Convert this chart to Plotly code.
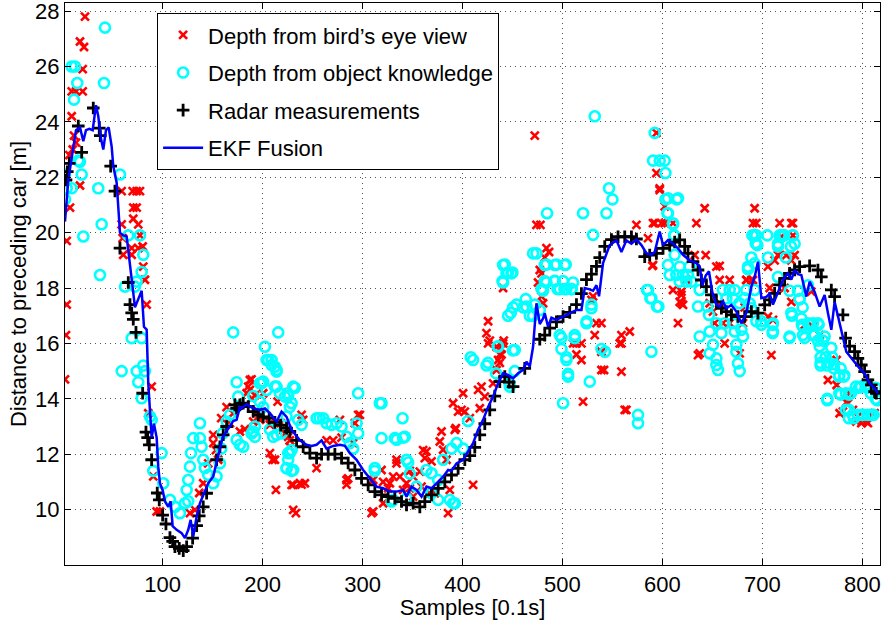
import plotly.graph_objects as go

# ---------------- data ----------------
ekf_x = [2.3, 5.6, 9, 13.3, 17.3, 20.6, 23.3, 26.6, 30, 33.3, 35.6, 38.3, 40.6, 43.3, 46, 49, 50.6, 54, 57.3, 60.6,
         64, 66.3, 69, 72.3, 75.6, 79, 81.3, 84, 85.6, 87.3, 89, 91.3, 94, 95.6, 97.3, 100, 102.3, 105.6, 108, 110,
         114, 119, 122.3, 125.6, 128, 130.6, 134, 137.3, 141.3, 145.6, 150.6, 155.6, 160, 164, 167.3, 170.6, 174,
         177.3, 179, 184, 187.3, 190.6, 197.3, 202.3, 207.3, 214, 219, 224, 229, 237.3, 244, 249, 254, 259, 264,
         270.6, 277.3, 282.3, 287.3, 294, 300.6, 307.3, 314, 320.6, 327.3, 334, 340.6, 344, 349, 354, 359, 364,
         369, 374, 380.6, 385.6, 389, 394, 400.6, 405.6, 410.6, 415.6, 420.6, 425.6, 430.6, 435.6, 440.6, 445.6,
         450.6, 455.6, 460.6, 464, 467.3, 470.6, 474, 477.3, 480.6, 482.3, 485.6, 489, 494, 500.6, 507.3, 514,
         519, 522.3, 527.3, 530.6, 534, 536.6, 540.6, 547.3, 554, 559, 564, 569, 574, 579, 584, 589, 592.3, 597.3,
         600.6, 605.6, 610.6, 615.6, 620.6, 627.3, 634, 637.3, 640, 643.3, 646.6, 650, 654, 657.3, 660.6, 664,
         669, 674, 679, 684, 689, 692.3, 695.6, 699, 704, 707.3, 710.6, 715.6, 720.6, 725.6, 729, 732.3, 735.6,
         739, 744, 747.3, 752.3, 757.3, 762.3, 765.6, 769, 772.3, 775.6, 780.6, 784, 790.6, 797.3, 802.3, 807.3,
         812.3, 815.6]
ekf_y = [20.4, 21.9, 22.7, 23.7, 23.8, 23.3, 23.7, 23.75, 23.7, 24.6, 24.2, 23.4, 23.0, 23.7, 23.8, 23.1, 22.4, 21.8,
         20.0, 19.9, 19.86, 19.1, 18.3, 17.3, 17.6, 17.9, 16.6, 16.5, 14.56, 13.36, 12.6, 13.1, 12.6, 11.55, 10.95,
         10.7, 10.3, 10.1, 10.3, 9.4, 9.27, 9.15, 8.97, 9.27, 9.63, 9.03, 9.75, 10.23, 10.6, 10.95, 11.2, 11.9, 12.6,
         12.85, 13.0, 13.2, 13.24, 13.7, 13.66, 13.8, 13.72, 13.66, 13.6, 13.65, 13.48, 13.18, 13.54, 13.35, 12.88,
         12.5, 12.34, 12.3, 12.34, 12.5, 12.2, 12.3, 12.34, 12.3, 12.04, 11.8, 11.43, 11.13, 10.83, 10.77, 10.65,
         10.65, 10.71, 10.47, 10.83, 10.71, 10.47, 10.83, 10.77, 10.95, 11.19, 11.43, 11.4, 11.67, 11.8, 12.1, 12.4,
         12.88, 13.24, 13.7, 14.08, 14.56, 14.92, 14.86, 14.74, 14.92, 15.04, 15.34, 15.16, 15.88, 17.45, 16.7, 16.9,
         17.09, 16.6, 16.93, 16.85, 16.97, 17.09, 17.21, 17.21, 18.0, 17.95, 17.9, 18.1, 17.7, 18.9, 19.55, 19.72,
         19.3, 19.72, 19.6, 19.75, 19.55, 19.26, 19.2, 19.3, 20.04, 19.55, 19.73, 19.6, 19.43, 19.2, 19.0, 18.9,
         18.78, 18.1, 18.45, 18.6, 17.84, 17.39, 17.33, 17.51, 17.27, 17.39, 17.15, 16.73, 17.1, 18.05, 18.4, 18.95,
         17.63, 17.68, 17.8, 17.4, 17.86, 18.29, 18.53, 18.3, 18.65, 18.5, 18.47, 17.69, 18.23, 17.86, 17.33, 17.75,
         17.1, 16.49, 17.5, 16.97, 16.13, 15.7, 15.4, 15.1, 14.92, 14.56, 14.38, 14.2]

radar_x = [3.3, 4.6, 6.6, 15.6, 19, 30.6, 36.6, 37.6, 48, 52.3, 57.3, 65.6, 67.3, 69, 70.6, 73.3, 80, 83.3, 85, 86.6,
           89, 94.6, 96.6, 100, 103.3, 107.3, 110, 112.3, 116.6, 120.6, 124, 130, 134, 136.6, 140.6, 144, 154,
           157.3, 160.6, 164, 172.3, 174, 177.3, 180.6, 185.6, 190.6, 195.6, 200.6, 206.6, 212.3, 218, 224, 227.3,
           234, 240.6, 247.3, 254, 259, 265.6, 272.3, 279, 285.6, 292.3, 299, 305.6, 312.3, 319, 325.6, 332.3, 339,
           344, 350.6, 357.3, 362.3, 369, 375.6, 382.3, 389, 395.6, 402.3, 407.3, 412.3, 417.3, 422.3, 427.3, 432.3,
           437.3, 442.3, 446.6, 450.6, 462.3, 477.3, 482.3, 487.3, 494, 500.6, 507.3, 514, 519, 524, 529, 534,
           537.3, 542.3, 549, 555.6, 562.3, 569, 574, 582.3, 587.3, 594, 600.6, 607.3, 612.3, 617.3, 622.3, 625.6,
           630.6, 635.6, 639, 644, 649, 654, 659, 664, 669, 675.6, 682.3, 689, 695.6, 702.3, 707.3, 712.3, 717.3,
           722.3, 727.3, 732.3, 737.3, 747.3, 755.6, 759, 769, 772.3, 780.6, 783.3, 787.3, 792.3, 795.6, 799, 802.3,
           805.6, 809, 812.3, 814]
radar_y = [21.9, 22.2, 22.5, 23.85, 22.9, 24.5, 23.77, 23.5, 22.4, 21.5, 19.44, 18.2, 17.4, 17.1, 16.87, 16.4, 14.2,
           12.8, 12.6, 12.34, 11.8, 10.6, 10.35, 9.8, 9.48, 8.99, 8.85, 8.66, 8.6, 8.52, 8.66, 8.97, 9.42, 9.77, 10.1,
           10.59, 11.8, 12.27, 12.7, 13.0, 13.78, 13.66, 13.78, 13.84, 13.72, 13.54, 13.42, 13.35, 13.3, 13.15, 13.05,
           12.94, 12.82, 12.5, 12.27, 12.04, 11.86, 12.0, 12.0, 12.0, 11.86, 11.68, 11.43, 11.13, 10.89, 10.65,
           10.53, 10.47, 10.41, 10.29, 10.17, 10.23, 10.1, 10.29, 10.53, 10.77, 11.0, 11.25, 11.49, 11.8, 11.95,
           12.25, 12.7, 13.1, 13.6, 14.1, 14.62, 14.8, 14.6, 14.44, 15.1, 16.15, 16.3, 16.55, 16.78, 16.97, 17.12,
           17.4, 17.8, 18.3, 18.5, 18.78, 19.1, 19.5, 19.75, 19.85, 19.85, 19.85, 19.77, 19.13, 19.19, 19.25, 19.43,
           19.55, 19.66, 19.74, 19.5, 19.25, 18.95, 18.65, 18.29, 18.05, 17.75, 17.5, 17.27, 17.15, 17.03, 16.97,
           16.97, 17.15, 17.09, 17.39, 17.57, 17.81, 18.11, 18.35, 18.53, 18.65, 18.77, 18.8, 18.65, 18.4, 17.93,
           17.69, 17.03, 16.19, 15.9, 15.7, 15.46, 15.22, 14.98, 14.68, 14.5, 14.26, 14.2]

bird_x = [22.3, 17.3, 21.3, 20, 9, 13.3, 20, 9, 11.3, 13.3, 10, 6.6, 17.3, 7.3, 4, 59, 70, 74, 77.3, 70.6, 74, 70.6,
          75.6, 59, 60, 69, 75.6, 80, 77.3, 4, 3.3, 2.3, 60.6, 69, 80.6, 82.3, 84, 89, 85.6, 90.6, 94, 97.3,
          185.6, 189, 184, 190.6, 197.3, 182.3, 177.3, 170.6, 167.3, 164, 158.6, 150.6, 150.6, 153.3, 155.6, 145.6,
          140.6, 136.6, 132.3, 127.3, 207.3, 212.3, 213.3, 207.3, 220.6, 225.6, 227.3, 230.6, 230.6, 233.3, 200.6,
          195.6, 210, 229, 237.3, 239, 254, 284, 285.6, 295.6, 292.3, 290.6, 277.3, 279, 270.6, 264, 239, 240.6,
          227.3, 222.3, 218.3, 215, 187.3, 187.3, 192.3, 207.3, 194, 189, 242.3, 284, 297.3,
          310.6, 320.6, 310.6, 319, 325.6, 334, 330.6, 337.3, 344, 350.6, 357.3, 362.3, 364, 369, 347.3, 340.6, 359,
          327.3, 320.6, 377.3, 379, 380.6, 384, 390.6, 395.6, 400.6, 399, 385.6, 387.3, 372.3, 367.3, 350.6, 309,
          334, 347.3, 360.6, 392.3, 407.3, 410.6, 417.3, 419, 422.3, 425.6, 424, 427.3, 435.6, 437.3, 439, 441.3,
          434, 425.6, 440.6, 439, 437.3, 434, 430.6, 415.6, 402.3, 393.3,
          472.3, 474, 478, 486.6, 479, 475.6, 440.6, 479, 480.6, 477.3, 482.3, 484, 510.6, 514, 519, 520.6, 530.6,
          532.3, 529, 534, 514, 519, 539, 539, 559, 559, 567.3, 559, 564, 574, 541.6, 539, 557.3, 562.3,
          594, 594, 597.3, 602.3, 590.6, 599, 602.3, 585.6, 634, 642.3, 692.3, 690.6, 694, 717.3, 730.6, 719,
          730.6, 597.3, 592.3, 610.6, 590.6, 632.3, 643.3, 654, 657.3, 667.3, 684, 690.6, 624, 619, 619, 620.6,
          615.6, 637.3, 652.3, 660.6, 667.3, 680.6, 647.3, 657.3, 650.6, 662.3, 677.3, 610.6, 590, 635.6, 657.3,
          709, 705.6, 715.6, 724, 732.3, 617.3, 619,
          729, 705.6, 712.3, 729, 684, 689, 707.3, 722.3, 682.3, 729, 710.6, 749, 742.3, 750.6, 757.3,
          765.6, 774.3, 780.6, 784, 790.6, 795.6, 805.6, 812.3, 799, 805.6, 787.3, 774.3, 777.3, 785.6, 794, 804]
bird_y = [27.8, 26.9, 26.7, 25.9, 25.1, 25.1, 25.1, 24.2, 23.5, 23.25, 23.0, 22.8, 21.7, 20.9, 19.7, 21.5, 21.5,
          21.5, 21.5, 20.9, 20.9, 20.5, 20.3, 20.3, 19.8, 19.44, 19.44, 19.5, 19.9, 17.4, 16.3, 14.7, 19.2, 19.2,
          18.77, 18.3, 17.4, 14.44, 13.48, 11.2, 9.93, 9.93,
          14.44, 14.7, 14.2, 13.18, 13.24, 12.9, 12.82, 13.48, 13.12, 13.7, 13.3, 12.7, 12.4, 12.15, 11.8, 11.67,
          10.95, 10.6, 9.99, 9.87, 12.04, 11.8, 10.71, 13.12, 12.88, 12.63, 12.27, 10.89, 9.99, 9.87, 14.2, 13.54,
          11.8, 10.89, 10.95, 10.9, 11.5, 11.07, 11.13, 13.42, 13.12, 12.4, 13.24, 12.6, 12.5, 12.5, 13.42, 13.24,
          12.5, 12.75, 13.12, 13.9, 14.68, 14.32, 14.13, 13.06, 13.5, 14.0, 10.95, 10.9, 13.42,
          9.93, 10.23, 11.07, 11.43, 10.77, 11.8, 11.19, 11.19, 10.95, 11.19, 11.37, 11.86, 12.1, 11.74, 10.77,
          10.71, 10.83, 10.95, 11.0, 12.46, 12.82, 12.16, 11.8, 13.84, 13.54, 14.2, 13.6, 9.87, 10.71, 10.59, 10.59,
          10.47, 9.87, 11.67, 11.4, 12.15, 12.88, 13.3, 10.89, 13.66, 14.44, 14.08, 16.8, 16.37, 16.1, 15.4, 15.6,
          15.8, 16.1, 15.88, 16.0, 16.0, 15.6, 15.3, 15.04, 14.56, 14.32, 13.54, 12.94,
          23.5, 20.28, 20.28, 19.3, 18.53, 18.2, 18.0, 17.7, 17.45, 18.65, 19.1, 19.44, 16.0, 15.6, 15.4, 13.9,
          17.7, 16.3, 17.57, 16.73, 16.0, 16.0, 15.7, 15.04, 16.3, 16.0, 16.43, 14.98, 13.6, 20.28, 15.04, 16.73,
          16.0, 13.6,
          23.6, 22.15, 21.6, 20.95, 20.34, 20.34, 20.34, 19.8, 20.34, 20.88, 20.88, 20.34, 20.34, 20.34, 20.34,
          19.85, 19.9, 21.54, 20.34, 20.34, 18.83, 19.19, 19.19, 18.77, 18.29, 18.29, 18.29, 18.29, 18.29, 17.75,
          17.45, 17.39, 16.73, 15.64, 16.73, 16.73, 16.73, 16.73, 17.45, 17.45, 17.15, 16.0, 15.64, 17.93, 18.8,
          15.58, 18.8, 15.58, 16.97, 19.19, 19.19, 19.19, 17.5, 17.87,
          20.34, 18.77, 19.0, 19.0, 18.29, 18.29, 18.0, 18.0, 17.3, 17.5, 16.85, 17.87, 16.67, 16.6, 16.3,
          14.68, 15.4, 13.54, 13.87, 13.6, 13.36, 13.36, 13.48, 13.12, 13.12, 14.2, 14.5, 13.48, 13.84, 13.18, 13.18]

obj_x = [42.3, 9, 12.3, 14.6, 41.3, 11.3, 17.3, 15.6, 19, 2.3, 4, 9, 2.3, 35.6, 57.3, 39, 20.6, 65.6, 77.3,
         80.6, 79, 62.3, 74, 37.3, 59, 72.3, 69, 79, 74, 75.6, 80.6, 82.3, 79, 87.3, 89, 99, 90.6, 100.6, 107.3,
         112.3, 117.3, 122.3, 125.6, 124, 125.6, 127.3, 128.3, 130.6, 137.3, 137.3, 139, 140.6, 142.3, 145.6, 150.6,
         154, 157.3, 158.6, 160, 164, 167.3, 170.6, 174, 175.6, 174, 177.3, 180.6, 190.6, 192.3, 199, 202.3, 204,
         209, 212.3, 215.6, 214, 212.3, 217.3, 222.3, 230.6, 227.3, 224, 224, 229, 225.6, 229, 210.6, 200.6,
         190.6, 204, 205.6, 209, 214, 197.3, 200.6, 214, 225, 232.3, 229, 225.6, 197.3, 189, 192.3, 207.3, 214,
         219, 227.3, 225.6, 224, 230.6, 235.6, 239, 254, 257, 260.6, 264, 269, 274, 279, 284, 287.3, 290.6,
         295.6, 294, 295.6, 312.3, 319, 319, 334, 340.6, 340, 344, 347.3, 330.6, 344, 354, 364, 369, 375.6,
         380.6, 389, 394, 400.6, 387.3, 392.3, 375.6, 369, 317.3, 332.3, 342.3, 345.6, 329, 312.3, 390.6, 405.6,
         410.6, 424, 435.6, 452.3, 447.3, 440.6, 444, 449, 440.6, 445.6, 450.6, 460.6, 467.3, 470.6, 474,
         482.3, 492.3, 502.3, 484, 492.3, 497.3, 504, 509, 510.6, 480.6, 499, 504, 505.6, 512.3, 524, 529, 527.3,
         500.6, 532.3, 546.6, 550, 544, 520.6, 484.6, 530.6, 442.3, 445.6, 450, 440, 484, 494, 503.3, 482.3,
         492.3, 500.6, 495, 502, 509.3, 479, 463.3, 454, 464, 448.3, 470.6, 477.3, 472.3, 529, 524.3, 497.3,
         512.3, 499, 504, 505.6, 539, 435.3, 450.3, 425.6, 408.3, 433.6, 447, 452.3,
         592.3, 590.6, 597.3, 602.3, 603, 603, 614.3, 605, 610.6, 611.6, 694, 694, 717.3, 721, 730.6, 715.6,
         732.3, 605.6, 615.6, 605.6, 610.6, 612, 605.6, 607.3, 614, 620.6, 625.6, 617.3, 624, 629, 627.3, 612.3,
         617.3, 637.3, 635.6, 584.6, 588, 594.6, 589, 645, 646.6, 660.6, 667.3, 672.3, 664, 670.6, 684, 692.3,
         682.3, 689, 692.3, 693.3, 685.6, 654, 662.3, 670.6, 679, 637.3, 647.3, 650.6, 659, 647.3, 654, 654,
         655.6, 674, 674, 675.6, 677.3, 680.6, 672.3, 575.6, 575.6, 542.6, 585.6, 589, 596, 690, 705, 722, 694,
         699, 710.6, 710.6, 727.3, 729, 737.3, 739, 740.6, 740.6, 745.6, 750.6, 755.6, 750.6, 755.6, 760.6,
         758.3, 763.3, 758.3, 766.6, 770, 771.6, 777, 782, 777, 783.6, 788.6, 793.6, 798.6, 803.6, 808.6, 813.3,
         783.6, 790.3, 795.3, 800.3, 805.3, 810.3, 765, 692.3, 695, 689, 685.6, 687.3, 677, 699, 710.3, 710.3,
         705.6, 715.6, 719, 730.3, 728.6, 723.6, 715.6, 727.3, 735.6, 737.3, 745.6, 740.3, 729.6, 739.6, 748,
         756.3, 742.3, 727.3, 752.3, 762.3, 757.3, 769, 758.3, 765, 771.6, 778.3, 776.6, 781.6, 765, 778.3,
         786.6, 796.6, 805, 813.3, 815, 786.6, 786.6, 791.6, 800, 808, 811.3]
obj_y = [27.4, 26.0, 26.0, 25.4, 25.4, 24.8, 22.56, 22.6, 22.1, 22.1, 21.6, 21.6, 21.2, 21.6, 22.1, 20.3,
         19.86, 19.9, 19.9, 19.2, 18.58, 18.05, 18.23, 18.47, 15.0, 18.05, 16.19, 16.19, 15.0, 14.6, 15.2, 15.0,
         14.02, 13.36, 13.24, 12.04, 11.4, 10.95, 10.35, 10.1, 9.87, 10.23, 10.3, 10.71, 11.07, 11.55, 12.04,
         12.58, 13.12, 12.58, 12.27, 11.8, 11.5, 11.25, 10.95, 11.2, 11.67, 12.2, 12.75, 13.18, 13.42, 16.4,
         14.6, 14.08, 12.52, 12.34, 12.27, 12.82, 13.0, 14.56, 15.88, 15.4, 15.4, 15.16, 16.4, 15.04, 14.44,
         14.2, 14.08, 14.44, 13.7, 13.36, 11.49, 11.4, 12.04, 12.15, 12.63, 13.7, 14.1, 14.32, 15.4, 15.22,
         14.98, 14.56, 14.62, 14.44, 14.2, 14.4, 13.84, 14.1, 13.9, 12.75, 12.63, 12.9, 12.7, 12.75, 12.04,
         11.8, 11.5, 11.43, 13.24, 13.06, 13.3, 13.3, 13.3, 13.12, 13.06, 13.12, 13.0, 12.63, 12.4, 12.2, 12.75,
         13.12, 14.2, 11.5, 13.84, 12.58, 12.52, 12.6, 13.3, 11.8, 11.3, 10.35, 10.41, 10.83, 11.43, 11.31,
         11.07, 11.8, 12.2, 12.4, 12.2, 10.35, 10.23, 10.35, 10.59, 13.84, 12.58, 12.63, 11.7, 10.29, 11.4, 10.23,
         13.2, 15.4, 15.2, 15.88, 15.76, 14.44, 18.83, 18.53, 18.53, 18.2, 17.0, 17.3, 17.3, 17.0, 19.25, 19.25,
         18.83, 18.83, 18.83, 18.2, 18.26, 17.96, 17.96, 17.96, 18.2, 17.9, 16.2, 15.4, 14.8, 16.19, 16.73, 17.27,
         14.62, 13.84, 24.2, 21.6, 21.2, 20.7, 20.7, 20.7, 19.92, 18.85, 18.56, 18.56, 18.25, 18.85, 18.85, 18.85,
         18.25, 18.25, 18.25, 17.96, 17.96, 17.96, 17.96, 17.6, 17.4, 17.33, 17.1, 17.0, 17.2, 17.4, 17.4, 16.8,
         16.3, 16.3, 15.8, 15.5, 14.9, 15.8, 15.9, 15.75, 15.3, 15.5, 14.92, 14.56, 15.0,
         23.6, 22.6, 22.6, 22.6, 22.15, 21.2, 21.2, 20.7, 20.3, 19.9, 19.9, 19.6, 19.9, 19.9, 19.9, 19.6, 19.6,
         21.24, 21.24, 20.7, 20.34, 19.9, 18.83, 18.47, 18.47, 18.47, 18.47, 18.23, 18.23, 18.23, 18.77, 19.2,
         18.77, 17.93, 17.33, 17.93, 17.63, 17.33, 15.7, 17.33, 17.03, 17.93, 17.93, 17.93, 17.63, 17.63, 17.93,
         17.93, 17.63, 17.27, 18.89, 19.62, 18.77, 16.73, 16.73, 16.73, 16.49, 16.25, 16.43, 15.95, 16.37, 15.64,
         15.46, 15.22, 15.04, 15.95, 15.7, 15.28, 15.0, 16.25, 16.43, 13.42, 13.12, 15.7, 17.93, 17.63, 17.33,
         19.9, 19.9, 19.9, 16.8, 16.8, 16.73, 16.43, 16.25, 17.1, 17.6, 16.9, 16.6, 16.3, 16.73, 16.73, 16.73,
         16.3, 16.1, 16.1, 15.5, 15.5, 15.3, 15.3, 15.5, 15.1, 14.85, 14.85, 14.2, 14.2, 14.2, 14.44, 14.44, 14.44,
         14.2, 14.0, 13.6, 13.42, 13.42, 13.42, 13.42, 13.42, 14.0, 19.92, 19.55, 19.1, 18.68, 17.45, 17.45,
         16.67, 16.67, 16.37, 19.1, 19.5, 19.9, 19.9, 19.5, 19.1, 18.4, 17.9, 17.9, 17.6, 18.1, 17.3, 17.0, 16.67,
         16.67, 16.67, 16.2, 16.2, 16.3, 16.25, 15.9, 15.84, 15.2, 15.2, 15.25, 15.1, 14.8, 14.8, 13.95, 14.15,
         14.15, 14.4, 14.4, 14.4, 13.95, 13.6, 13.3, 13.3, 13.42, 13.42, 13.42]

series_names = ["Depth from bird\u2019s eye view", "Depth from object knowledge",
                "Radar measurements", "EKF Fusion"]
x_ticks = [100, 200, 300, 400, 500, 600, 700, 800]
y_ticks = [10, 12, 14, 16, 18, 20, 22, 24, 26, 28]

# ---------------- figure ----------------
fig = go.Figure()
fig.add_trace(go.Scatter(x=bird_x, y=bird_y, mode="markers", name=series_names[0], legendgroup="a",
                         marker=dict(symbol="x-thin", size=8, color="red", line=dict(color="red", width=2.6))))
fig.add_trace(go.Scatter(x=obj_x, y=obj_y, mode="markers", name=series_names[1], legendgroup="b",
                         marker=dict(symbol="circle-open", size=10, color="#00FFFF",
                                     line=dict(color="#00FFFF", width=2.6))))
fig.add_trace(go.Scatter(x=radar_x, y=radar_y, mode="markers", name=series_names[2], legendgroup="c",
                         marker=dict(symbol="cross-thin", size=9, color="black", line=dict(color="black", width=2.8))))
fig.add_trace(go.Scatter(x=ekf_x, y=ekf_y, mode="lines", name=series_names[3], legendgroup="d",
                         line=dict(color="#0000FF", width=2.5)))

axis_common = dict(showline=True, linecolor="black", linewidth=1, mirror="ticks", ticks="inside", ticklen=6,
                   tickcolor="black", showgrid=True, gridcolor="#555555", gridwidth=1, griddash="1px,4px",
                   zeroline=False, tickfont=dict(size=22, color="black"), ticklabeloverflow="allow")
fig.update_xaxes(range=[2.3, 817.7], tickmode="array", tickvals=x_ticks,
                 title=dict(text="Samples [0.1s]", standoff=1, font=dict(size=22)), **axis_common)
fig.update_yaxes(range=[8.0, 28.29], tickmode="array", tickvals=y_ticks,
                 title=dict(text="Distance to preceding car [m]", standoff=2, font=dict(size=22)), **axis_common)

fig.update_layout(
    width=881, height=620,
    margin=dict(l=65, r=1, t=3, b=55, autoexpand=False),
    paper_bgcolor="white", plot_bgcolor="white",
    font=dict(family="Liberation Sans, Arial, sans-serif", size=22, color="black"),
    legend=dict(x=0.113, y=0.982, xanchor="left", yanchor="top", bgcolor="white", bordercolor="black",
                borderwidth=1, font=dict(size=22), tracegroupgap=6, traceorder="grouped", itemwidth=40,
                entrywidth=300, entrywidthmode="pixels"),
)
fig.write_html("out.html")
